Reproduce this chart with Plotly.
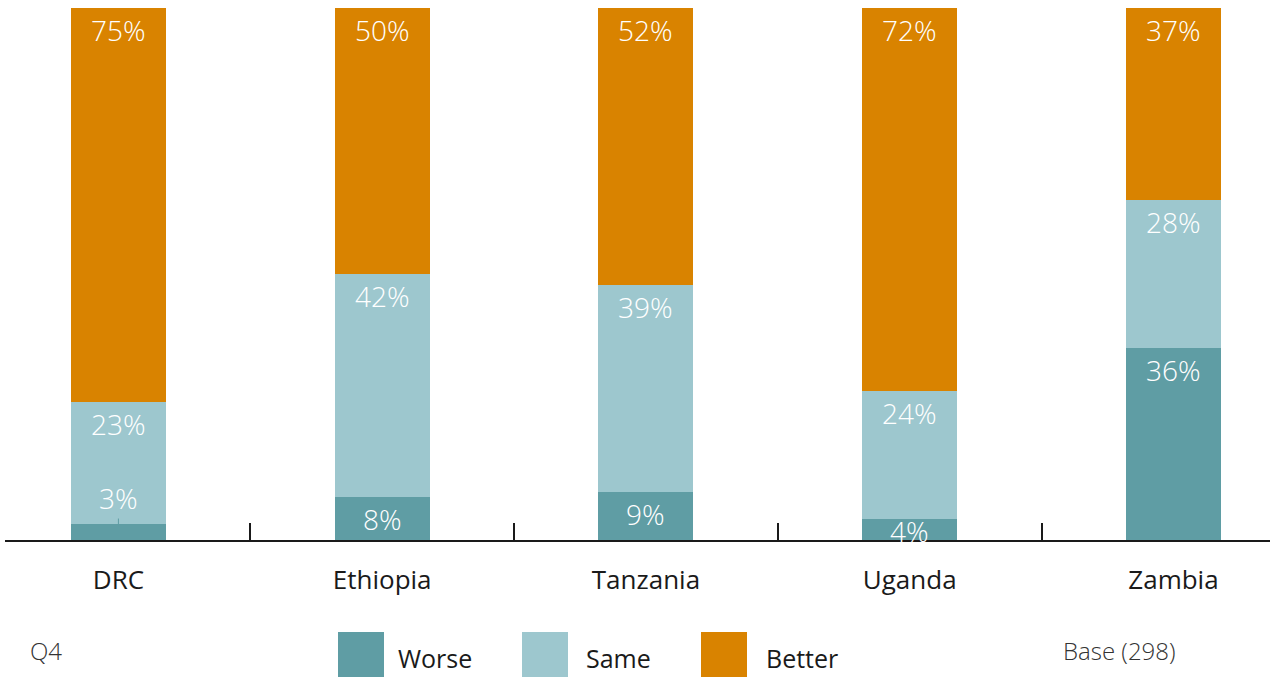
import plotly.graph_objects as go

# Survey responses per country (percent of respondents)
countries = ["DRC", "Ethiopia", "Tanzania", "Uganda", "Zambia"]
worse = [3, 8, 9, 4, 36]
same = [23, 42, 39, 24, 28]
better = [75, 50, 52, 72, 37]

series_names = ["Worse", "Same", "Better"]
series_colors = ["#5f9da4", "#9dc7ce", "#d98300"]
series_values = [worse, same, better]

question_label = "Q4"
base_label = "Base (298)"

W, H = 1270, 677
M_L, M_R, M_T, M_B = 5, 0, 8, 137
PLOT_W = W - M_L - M_R
PLOT_H = H - M_T - M_B
Y_MAX = 100

FONT = "Open Sans"
TEXT_DARK = "#1a1a1a"


def px_x(px):
    return (px - M_L) / PLOT_W


def px_y(py):
    return (H - M_B - py) / PLOT_H


fig = go.Figure()
for name, color, vals in zip(series_names, series_colors, series_values):
    fig.add_trace(go.Bar(
        x=countries, y=vals, name=name, marker_color=color,
        marker_line_width=0, width=0.36, showlegend=False,
        cliponaxis=True,
        hovertemplate="%{x}<br>" + name + ": %{y}%<extra></extra>",
    ))

# Value labels, anchored just below the top of each segment
annotations = []
cum = [0.0] * len(countries)
for vals in series_values:
    for i, v in enumerate(vals):
        cum[i] += v
        top = min(cum[i], Y_MAX)
        label_font = dict(family=FONT, size=28, color="white", weight=300)
        if v < 4:
            # tiny segment: callout above with a short leader line
            annotations.append(dict(
                x=countries[i], y=top, xref="x", yref="y", text=f"{v}%",
                showarrow=True, arrowhead=0, arrowwidth=1,
                arrowcolor=series_colors[0], ax=0, ay=-26, standoff=0,
                font=label_font,
            ))
        else:
            shift = -22 if v > 6 else -12
            annotations.append(dict(
                x=countries[i], y=top, xref="x", yref="y", text=f"{v}%",
                showarrow=False, yanchor="middle", yshift=shift,
                font=label_font,
            ))

# Legend drawn as large swatches with labels
legend_boxes = [(338, 384), (522, 568), (701, 747)]
legend_text_x = [396, 584, 764]
shapes = []
for (x0, x1), tx, name, color in zip(legend_boxes, legend_text_x, series_names, series_colors):
    shapes.append(dict(
        type="rect", xref="paper", yref="paper",
        x0=px_x(x0), x1=px_x(x1), y0=px_y(677), y1=px_y(632),
        fillcolor=color, line_width=0,
    ))
    annotations.append(dict(
        x=px_x(tx), y=px_y(658), xref="paper", yref="paper", text=name,
        showarrow=False, xanchor="left", yanchor="middle",
        font=dict(family=FONT, size=25, color=TEXT_DARK),
    ))

annotations.append(dict(
    x=px_x(28), y=px_y(650), xref="paper", yref="paper", text=question_label,
    showarrow=False, xanchor="left", yanchor="middle",
    font=dict(family=FONT, size=24, color="#333333", weight=300),
))
annotations.append(dict(
    x=px_x(1061), y=px_y(650), xref="paper", yref="paper", text=base_label,
    showarrow=False, xanchor="left", yanchor="middle",
    font=dict(family=FONT, size=24, color="#333333", weight=300),
))

fig.update_layout(
    barmode="stack",
    width=W, height=H,
    margin=dict(l=M_L, r=M_R, t=M_T, b=M_B, pad=0),
    paper_bgcolor="white", plot_bgcolor="white",
    font=dict(family=FONT, color=TEXT_DARK),
    annotations=annotations, shapes=shapes,
    xaxis=dict(
        type="category", range=[-0.43, 4.366],
        showline=True, linecolor="#1a1a1a", linewidth=2,
        ticks="inside", tickson="boundaries", ticklen=17,
        tickcolor="#1a1a1a", tickwidth=1.5,
        showgrid=False, zeroline=False,
        ticklabelstandoff=16,
        tickfont=dict(family=FONT, size=26, color=TEXT_DARK),
    ),
    yaxis=dict(
        range=[0, Y_MAX], visible=False, showgrid=False, zeroline=False,
    ),
)

fig.write_html("out.html")
